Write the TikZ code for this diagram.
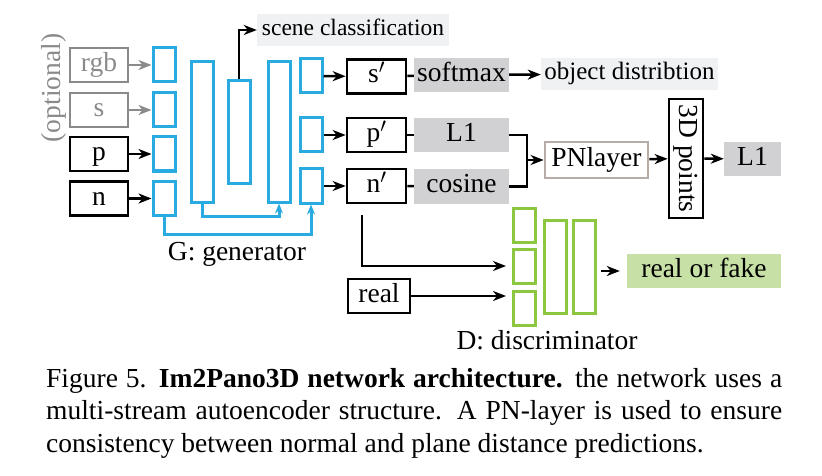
\documentclass[tikz,border=0pt]{standalone}
\usepackage{fontspec}
\setmainfont{Liberation Serif}
\usetikzlibrary{arrows.meta}
\definecolor{gblue}{HTML}{29ABE2}
\definecolor{dgreen}{HTML}{8DC63F}
\definecolor{optgray}{HTML}{8A8A8A}
\definecolor{lossgray}{HTML}{D1D1D3}
\definecolor{taggray}{HTML}{F0F1F3}
\definecolor{pnborder}{HTML}{B8ADA6}
\definecolor{fakegreen}{HTML}{C6E0A5}
\begin{document}
\begin{tikzpicture}[x=1pt, y=-1pt,
  font=\fontsize{27.5}{32.5}\selectfont,
  box/.style={draw, line width=2.7pt, inner sep=0pt, minimum width=58pt, minimum height=34pt, text height=19pt, text depth=6pt},
  optbox/.style={box, draw=optgray, text=optgray},
  gen/.style={draw=gblue, line width=3pt, inner sep=0pt, minimum width=22pt},
  dis/.style={draw=dgreen, line width=3pt, inner sep=0pt, minimum width=22pt},
  loss/.style={fill=lossgray, inner sep=0pt, minimum width=95pt, minimum height=34pt, text height=19pt, text depth=6pt},
  tag/.style={fill=taggray, inner sep=0pt, minimum height=32pt, text height=17pt, text depth=5pt},
  arr/.style={-{Stealth[length=13pt,width=10pt,inset=4pt]}, line width=2.5pt},
  skip/.style={-{Stealth[length=10pt,width=8pt]}, gblue, line width=3pt}]
  \useasboundingbox (0,0) rectangle (822,476);

  % inputs
  \node[optbox] (rgb) at (99,65) {rgb};
  \node[optbox] (s) at (99,110) {s};
  \node[box] (p) at (99,154) {p};
  \node[box] (n) at (99,198.5) {n};
  \node[rotate=90, text=optgray, inner sep=0pt] (opt) at (54,88) {(optional)};

  % generator
  \foreach \nm/\y in {rgb/65, s/110, p/154, n/198.5}
    \node[gen, minimum height=34pt] (e\nm) at (164,\y) {};
  \node[gen, minimum height=140pt] (g1) at (202.5,132) {};
  \node[gen, minimum height=102pt] (g2) at (239,132) {};
  \node[gen, minimum height=140pt] (g3) at (279,132) {};
  \foreach \nm/\y in {s/76, p/135, n/186}
    \node[gen, minimum height=34pt] (o\nm) at (311,\y) {};
  \node[anchor=base] (glabel) at (237,260) {G: generator};

  % outputs and losses
  \node[box, minimum width=59pt] (sp) at (376.5,76.5) {s$'$};
  \node[box, minimum width=59pt] (pp) at (376.5,135) {p$'$};
  \node[box, minimum width=59pt] (np) at (376.5,186) {n$'$};
  \node[loss] (softmax) at (461.5,75) {softmax};
  \node[loss] (l1) at (461.5,135) {L1};
  \node[loss] (cos) at (461.5,186.5) {cosine};
  \node[tag, minimum width=192pt, font=\fontsize{23.5}{28}\selectfont] (scene) at (353,30) {scene classification};
  \node[tag, minimum width=177pt, font=\fontsize{25}{28}\selectfont] (obj) at (629.5,74) {object distribtion};
  \node[box, draw=pnborder, minimum width=103pt, minimum height=36pt] (pn) at (596.5,160) {PNlayer};
  \node[box, rotate=-90, minimum width=119pt] (pts) at (686,158.5) {3D points};
  \node[loss, minimum width=57pt] (l1b) at (752.5,159) {L1};
  \coordinate (merge) at (527,160);

  % discriminator
  \foreach \nm/\y in {1/225, 2/266, 3/308}
    \node[dis, minimum height=34pt] (d\nm) at (524.5,\y) {};
  \node[dis, minimum height=93pt] (d4) at (555,266.5) {};
  \node[dis, minimum height=93pt] (d5) at (584,266.5) {};
  \node[box, minimum width=62pt] (real) at (379,296) {real};
  \node[loss, fill=fakegreen, minimum width=154pt] (rf) at (704,271) {real or fake};
  \node[anchor=base] (dlabel) at (547,349) {D: discriminator};

  % connectors
  \draw[arr, optgray] (rgb) -- (ergb);
  \draw[arr, optgray] (s) -- (es);
  \draw[arr] (p) -- (ep);
  \draw[arr] (n) -- (en);
  \draw[skip] (g1.south) -- ++(0,13) -| (g3.south);
  \draw[skip] (en.south) -- ++(0,17) -| (on.south);
  \draw[arr] (g2.north) |- (scene.west);
  \draw[arr] (os) -- (sp);
  \draw[arr] (op) -- (pp);
  \draw[arr] (on) -- (np);
  \draw[line width=2.5pt] (sp) -- (softmax);
  \draw[line width=2.5pt] (pp) -- (l1);
  \draw[line width=2.5pt] (np) -- (cos);
  \draw[arr] (softmax) -- (obj);
  \draw[line width=2.5pt] (l1.east) -| (merge) |- (cos.east);
  \draw[arr] (merge) -- (pn);
  \draw[arr] (pn) -- (pts);
  \draw[arr] (pts) -- (l1b);
  \draw[arr, shorten >=6pt] (np.south) ++(-14.5,11) |- (d2.west);
  \draw[arr, shorten >=6pt] (real.east) -- (real.east -| d3.west);
  \draw[arr, shorten <=4pt, shorten >=7pt] (d5.east |- rf.west) -- (rf.west);

  % caption
  \node[anchor=base west, text width=736pt, align=justify, inner sep=0pt] (caption) at (46,387)
    {Figure 5. \textbf{Im2Pano3D network architecture.} the network uses a\linebreak
     multi-stream autoencoder structure. A PN-layer is used to ensure\linebreak
     consistency between normal and plane distance predictions.};
\end{tikzpicture}
\end{document}
